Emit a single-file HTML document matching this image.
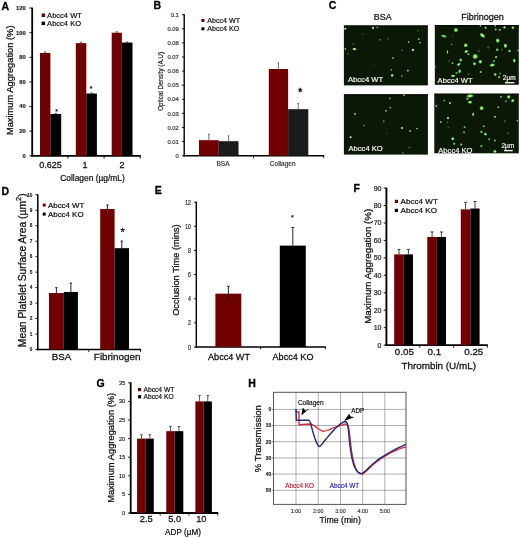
<!DOCTYPE html>
<html><head><meta charset="utf-8"><title>Figure</title>
<style>
html,body{margin:0;padding:0;background:#fff;}
svg{display:block;}
text{font-family:"Liberation Sans",sans-serif;}
</style></head><body>
<svg width="520" height="538" viewBox="0 0 520 538">
<rect x="0" y="0" width="520" height="538" fill="#fff"/>
<text x="1.6" y="9.8" font-size="10.5" text-anchor="start" font-weight="bold" fill="#000" stroke="#000" stroke-width="0.294">A</text>
<line x1="32.20" y1="7.58" x2="32.20" y2="156.70" stroke="#000" stroke-width="1.8"/>
<line x1="31.30" y1="155.80" x2="140.70" y2="155.80" stroke="#000" stroke-width="1.8"/>
<line x1="29.40" y1="155.80" x2="32.20" y2="155.80" stroke="#000" stroke-width="0.9"/>
<line x1="29.40" y1="131.18" x2="32.20" y2="131.18" stroke="#000" stroke-width="0.9"/>
<line x1="29.40" y1="106.56" x2="32.20" y2="106.56" stroke="#000" stroke-width="0.9"/>
<line x1="29.40" y1="81.94" x2="32.20" y2="81.94" stroke="#000" stroke-width="0.9"/>
<line x1="29.40" y1="57.32" x2="32.20" y2="57.32" stroke="#000" stroke-width="0.9"/>
<line x1="29.40" y1="32.70" x2="32.20" y2="32.70" stroke="#000" stroke-width="0.9"/>
<line x1="29.40" y1="8.08" x2="32.20" y2="8.08" stroke="#000" stroke-width="0.9"/>
<line x1="67.90" y1="155.80" x2="67.90" y2="158.60" stroke="#000" stroke-width="0.9"/>
<line x1="104.10" y1="155.80" x2="104.10" y2="158.60" stroke="#000" stroke-width="0.9"/>
<line x1="140.20" y1="155.80" x2="140.20" y2="158.60" stroke="#000" stroke-width="0.9"/>
<text x="25.7" y="157.70000000000002" font-size="5.8" text-anchor="end" font-weight="bold" fill="#222" stroke="#222" stroke-width="0.162">0</text>
<text x="25.7" y="133.08" font-size="5.8" text-anchor="end" font-weight="bold" fill="#222" stroke="#222" stroke-width="0.162">20</text>
<text x="25.7" y="108.46000000000001" font-size="5.8" text-anchor="end" font-weight="bold" fill="#222" stroke="#222" stroke-width="0.162">40</text>
<text x="25.7" y="83.84000000000002" font-size="5.8" text-anchor="end" font-weight="bold" fill="#222" stroke="#222" stroke-width="0.162">60</text>
<text x="25.7" y="59.220000000000006" font-size="5.8" text-anchor="end" font-weight="bold" fill="#222" stroke="#222" stroke-width="0.162">80</text>
<text x="25.7" y="34.6" font-size="5.8" text-anchor="end" font-weight="bold" fill="#222" stroke="#222" stroke-width="0.162">100</text>
<text x="25.7" y="9.980000000000013" font-size="5.8" text-anchor="end" font-weight="bold" fill="#222" stroke="#222" stroke-width="0.162">120</text>
<rect x="40.00" y="53.01" width="10.40" height="102.79" fill="#700101"/>
<rect x="50.40" y="113.95" width="10.80" height="41.85" fill="#000"/>
<line x1="45.20" y1="52.11" x2="45.20" y2="53.01" stroke="#111" stroke-width="0.6"/>
<line x1="44.00" y1="52.11" x2="46.40" y2="52.11" stroke="#111" stroke-width="0.6"/>
<line x1="55.80" y1="113.35" x2="55.80" y2="113.95" stroke="#111" stroke-width="0.6"/>
<line x1="54.60" y1="113.35" x2="57.00" y2="113.35" stroke="#111" stroke-width="0.6"/>
<rect x="75.80" y="43.16" width="10.50" height="112.64" fill="#700101"/>
<rect x="86.30" y="93.51" width="10.60" height="62.29" fill="#000"/>
<line x1="81.05" y1="42.26" x2="81.05" y2="43.16" stroke="#111" stroke-width="0.6"/>
<line x1="79.85" y1="42.26" x2="82.25" y2="42.26" stroke="#111" stroke-width="0.6"/>
<line x1="91.60" y1="92.91" x2="91.60" y2="93.51" stroke="#111" stroke-width="0.6"/>
<line x1="90.40" y1="92.91" x2="92.80" y2="92.91" stroke="#111" stroke-width="0.6"/>
<rect x="111.70" y="32.70" width="10.20" height="123.10" fill="#700101"/>
<rect x="121.90" y="42.55" width="10.60" height="113.25" fill="#000"/>
<line x1="116.80" y1="31.80" x2="116.80" y2="32.70" stroke="#111" stroke-width="0.6"/>
<line x1="115.60" y1="31.80" x2="118.00" y2="31.80" stroke="#111" stroke-width="0.6"/>
<line x1="127.20" y1="41.95" x2="127.20" y2="42.55" stroke="#111" stroke-width="0.6"/>
<line x1="126.00" y1="41.95" x2="128.40" y2="41.95" stroke="#111" stroke-width="0.6"/>
<text x="56.5" y="113.5" font-size="7" text-anchor="middle" font-weight="normal" fill="#111" stroke="#111" stroke-width="0.196">*</text>
<text x="91" y="90.5" font-size="7" text-anchor="middle" font-weight="normal" fill="#111" stroke="#111" stroke-width="0.196">*</text>
<rect x="41.60" y="13.50" width="3.50" height="3.50" fill="#700101"/>
<rect x="41.60" y="21.60" width="3.50" height="3.50" fill="#000"/>
<text x="47.1" y="17.968" font-size="7.55" text-anchor="start" font-weight="normal" fill="#111" stroke="#111" stroke-width="0.211">Abcc4 WT</text>
<text x="47.1" y="26.068" font-size="7.55" text-anchor="start" font-weight="normal" fill="#111" stroke="#111" stroke-width="0.211">Abcc4 KO</text>
<text x="50.6" y="168.4" font-size="9" text-anchor="middle" font-weight="normal" fill="#111" stroke="#111" stroke-width="0.252">0.625</text>
<text x="85.0" y="168.4" font-size="9" text-anchor="middle" font-weight="normal" fill="#111" stroke="#111" stroke-width="0.252">1</text>
<text x="121.9" y="168.4" font-size="9" text-anchor="middle" font-weight="normal" fill="#111" stroke="#111" stroke-width="0.252">2</text>
<text x="92.5" y="181.3" font-size="8.4" text-anchor="middle" font-weight="normal" fill="#111" stroke="#111" stroke-width="0.235">Collagen (µg/mL)</text>
<text x="13.2" y="80.3" font-size="9.3" text-anchor="middle" font-weight="normal" fill="#111" stroke="#111" stroke-width="0.26" transform="rotate(-90 13.2 80.3)">Maximum Aggregation (%)</text>
<text x="153.6" y="8.9" font-size="10.5" text-anchor="start" font-weight="bold" fill="#000" stroke="#000" stroke-width="0.294">B</text>
<line x1="184.20" y1="14.20" x2="184.20" y2="156.40" stroke="#000" stroke-width="1.4"/>
<line x1="183.50" y1="155.70" x2="324.20" y2="155.70" stroke="#000" stroke-width="1.4"/>
<line x1="182.00" y1="155.70" x2="184.20" y2="155.70" stroke="#000" stroke-width="0.9"/>
<line x1="182.00" y1="141.60" x2="184.20" y2="141.60" stroke="#000" stroke-width="0.9"/>
<line x1="182.00" y1="127.50" x2="184.20" y2="127.50" stroke="#000" stroke-width="0.9"/>
<line x1="182.00" y1="113.40" x2="184.20" y2="113.40" stroke="#000" stroke-width="0.9"/>
<line x1="182.00" y1="99.30" x2="184.20" y2="99.30" stroke="#000" stroke-width="0.9"/>
<line x1="182.00" y1="85.20" x2="184.20" y2="85.20" stroke="#000" stroke-width="0.9"/>
<line x1="182.00" y1="71.10" x2="184.20" y2="71.10" stroke="#000" stroke-width="0.9"/>
<line x1="182.00" y1="57.00" x2="184.20" y2="57.00" stroke="#000" stroke-width="0.9"/>
<line x1="182.00" y1="42.90" x2="184.20" y2="42.90" stroke="#000" stroke-width="0.9"/>
<line x1="182.00" y1="28.80" x2="184.20" y2="28.80" stroke="#000" stroke-width="0.9"/>
<line x1="182.00" y1="14.70" x2="184.20" y2="14.70" stroke="#000" stroke-width="0.9"/>
<line x1="253.50" y1="155.70" x2="253.50" y2="157.90" stroke="#000" stroke-width="0.9"/>
<line x1="323.70" y1="155.70" x2="323.70" y2="157.90" stroke="#000" stroke-width="0.9"/>
<text x="178.9" y="157.79999999999998" font-size="5.9" text-anchor="end" font-weight="normal" fill="#333" stroke="#333" stroke-width="0.165">0</text>
<text x="178.9" y="143.7" font-size="5.9" text-anchor="end" font-weight="normal" fill="#333" stroke="#333" stroke-width="0.165">0.01</text>
<text x="178.9" y="129.6" font-size="5.9" text-anchor="end" font-weight="normal" fill="#333" stroke="#333" stroke-width="0.165">0.02</text>
<text x="178.9" y="115.49999999999999" font-size="5.9" text-anchor="end" font-weight="normal" fill="#333" stroke="#333" stroke-width="0.165">0.03</text>
<text x="178.9" y="101.39999999999998" font-size="5.9" text-anchor="end" font-weight="normal" fill="#333" stroke="#333" stroke-width="0.165">0.04</text>
<text x="178.9" y="87.29999999999998" font-size="5.9" text-anchor="end" font-weight="normal" fill="#333" stroke="#333" stroke-width="0.165">0.05</text>
<text x="178.9" y="73.19999999999999" font-size="5.9" text-anchor="end" font-weight="normal" fill="#333" stroke="#333" stroke-width="0.165">0.06</text>
<text x="178.9" y="59.09999999999999" font-size="5.9" text-anchor="end" font-weight="normal" fill="#333" stroke="#333" stroke-width="0.165">0.07</text>
<text x="178.9" y="44.99999999999999" font-size="5.9" text-anchor="end" font-weight="normal" fill="#333" stroke="#333" stroke-width="0.165">0.08</text>
<text x="178.9" y="30.9" font-size="5.9" text-anchor="end" font-weight="normal" fill="#333" stroke="#333" stroke-width="0.165">0.09</text>
<text x="178.9" y="16.79999999999999" font-size="5.9" text-anchor="end" font-weight="normal" fill="#333" stroke="#333" stroke-width="0.165">0.1</text>
<rect x="199.00" y="140.19" width="19.80" height="15.51" fill="#700101"/>
<rect x="218.80" y="141.18" width="19.70" height="14.52" fill="#1b1b1d"/>
<rect x="268.80" y="68.98" width="19.30" height="86.72" fill="#700101"/>
<rect x="288.10" y="109.17" width="20.20" height="46.53" fill="#1b1b1d"/>
<line x1="208.90" y1="134.20" x2="208.90" y2="140.19" stroke="#333" stroke-width="0.7"/>
<line x1="208.10" y1="134.20" x2="209.70" y2="134.20" stroke="#333" stroke-width="0.7"/>
<line x1="228.60" y1="135.80" x2="228.60" y2="141.18" stroke="#333" stroke-width="0.7"/>
<line x1="227.80" y1="135.80" x2="229.40" y2="135.80" stroke="#333" stroke-width="0.7"/>
<line x1="278.40" y1="62.80" x2="278.40" y2="68.98" stroke="#333" stroke-width="0.7"/>
<line x1="277.60" y1="62.80" x2="279.20" y2="62.80" stroke="#333" stroke-width="0.7"/>
<line x1="298.20" y1="103.50" x2="298.20" y2="109.17" stroke="#333" stroke-width="0.7"/>
<line x1="297.40" y1="103.50" x2="299.00" y2="103.50" stroke="#333" stroke-width="0.7"/>
<text x="300.2" y="96.3" font-size="10" text-anchor="middle" font-weight="bold" fill="#111" stroke="#111" stroke-width="0.28">*</text>
<rect x="201.40" y="19.00" width="3.00" height="3.00" fill="#700101"/>
<rect x="201.40" y="27.30" width="3.00" height="3.00" fill="#000"/>
<text x="207.3" y="23.056" font-size="7.1" text-anchor="start" font-weight="normal" fill="#111" stroke="#111" stroke-width="0.199">Abcc4 WT</text>
<text x="207.3" y="31.356" font-size="7.1" text-anchor="start" font-weight="normal" fill="#111" stroke="#111" stroke-width="0.199">Abcc4 KO</text>
<text x="223" y="166.3" font-size="6.5" text-anchor="middle" font-weight="normal" fill="#333" stroke="#333" stroke-width="0.182">BSA</text>
<text x="282.7" y="166.3" font-size="6.5" text-anchor="middle" font-weight="normal" fill="#333" stroke="#333" stroke-width="0.182">Collagen</text>
<text x="163.3" y="81.4" font-size="6.3" text-anchor="middle" font-weight="normal" fill="#222" stroke="#222" stroke-width="0.176" transform="rotate(-90 163.3 81.4)">Optical Density (A.U)</text>
<text x="328.8" y="9.4" font-size="10.5" text-anchor="start" font-weight="bold" fill="#000" stroke="#000" stroke-width="0.294">C</text>
<text x="382.7" y="19.9" font-size="8.9" text-anchor="middle" font-weight="normal" fill="#111" stroke="#111" stroke-width="0.249">BSA</text>
<text x="482.5" y="19.9" font-size="9" text-anchor="middle" font-weight="normal" fill="#111" stroke="#111" stroke-width="0.252">Fibrinogen</text>
<defs><filter id="bl" x="-50%" y="-50%" width="200%" height="200%"><feGaussianBlur stdDeviation="0.35"/></filter>
<radialGradient id="gg"><stop offset="0" stop-color="#d6fcc6"/><stop offset="0.45" stop-color="#80dc5a"/><stop offset="0.8" stop-color="#3c9624" stop-opacity="0.8"/><stop offset="1" stop-color="#2a7a14" stop-opacity="0"/></radialGradient>
<radialGradient id="gm"><stop offset="0" stop-color="#e2f8d2"/><stop offset="0.5" stop-color="#9cd87c"/><stop offset="1" stop-color="#4a8a30" stop-opacity="0"/></radialGradient>
<radialGradient id="gp"><stop offset="0" stop-color="#e4f6c4"/><stop offset="0.5" stop-color="#a8cf78"/><stop offset="1" stop-color="#5a7a3a" stop-opacity="0"/></radialGradient>
<clipPath id="cp1"><rect x="343.9" y="25.5" width="84.00" height="59.90"/></clipPath>
<clipPath id="cp2"><rect x="434.8" y="25.1" width="84.00" height="59.70"/></clipPath>
<clipPath id="cp3"><rect x="343.9" y="94.3" width="84.00" height="60.30"/></clipPath>
<clipPath id="cp4"><rect x="434.3" y="93.7" width="84.50" height="59.60"/></clipPath>
</defs>
<rect x="343.90" y="25.50" width="84.00" height="59.90" fill="#0b1806"/>
<rect x="343.90" y="25.50" width="84.00" height="1.00" fill="#030603"/>
<g clip-path="url(#cp1)"><g filter="url(#bl)">
<ellipse cx="345.3" cy="28.7" rx="1.54" ry="1.54" fill="url(#gm)" opacity="1" transform="rotate(0 345.3 28.7)"/>
<ellipse cx="373.1" cy="27.8" rx="1.54" ry="1.54" fill="url(#gm)" opacity="1" transform="rotate(0 373.1 27.8)"/>
<ellipse cx="377.2" cy="27.3" rx="1.15" ry="1.15" fill="url(#gm)" opacity="0.8" transform="rotate(0 377.2 27.3)"/>
<ellipse cx="380.3" cy="39.7" rx="1.41" ry="1.41" fill="url(#gm)" opacity="0.45" transform="rotate(0 380.3 39.7)"/>
<ellipse cx="388.1" cy="38.8" rx="1.28" ry="1.28" fill="url(#gm)" opacity="0.3" transform="rotate(0 388.1 38.8)"/>
<ellipse cx="408.6" cy="42" rx="1.41" ry="1.41" fill="url(#gm)" opacity="0.7" transform="rotate(0 408.6 42)"/>
<ellipse cx="418.7" cy="39.2" rx="1.41" ry="1.41" fill="url(#gm)" opacity="0.7" transform="rotate(0 418.7 39.2)"/>
<ellipse cx="420" cy="42.7" rx="1.28" ry="1.28" fill="url(#gm)" opacity="0.7" transform="rotate(0 420 42.7)"/>
<ellipse cx="353.3" cy="44.1" rx="1.28" ry="1.28" fill="url(#gm)" opacity="0.3" transform="rotate(0 353.3 44.1)"/>
<ellipse cx="345.3" cy="48.9" rx="1.28" ry="1.28" fill="url(#gm)" opacity="0.7" transform="rotate(0 345.3 48.9)"/>
<ellipse cx="354.5" cy="49.1" rx="2.43" ry="1.66" fill="url(#gm)" opacity="1" transform="rotate(10 354.5 49.1)"/>
<ellipse cx="348" cy="53.8" rx="1.15" ry="1.15" fill="url(#gm)" opacity="0.35" transform="rotate(0 348 53.8)"/>
<ellipse cx="402.3" cy="50.3" rx="1.28" ry="1.28" fill="url(#gm)" opacity="0.4" transform="rotate(0 402.3 50.3)"/>
<ellipse cx="412.9" cy="50" rx="1.66" ry="1.66" fill="url(#gm)" opacity="1" transform="rotate(0 412.9 50)"/>
<ellipse cx="393.1" cy="57.9" rx="1.41" ry="1.41" fill="url(#gm)" opacity="0.6" transform="rotate(0 393.1 57.9)"/>
<ellipse cx="391.3" cy="69.8" rx="1.28" ry="1.28" fill="url(#gm)" opacity="0.6" transform="rotate(0 391.3 69.8)"/>
<ellipse cx="407.8" cy="70.7" rx="1.41" ry="1.41" fill="url(#gm)" opacity="0.8" transform="rotate(0 407.8 70.7)"/>
<ellipse cx="392.2" cy="75.4" rx="1.79" ry="1.79" fill="url(#gm)" opacity="1" transform="rotate(0 392.2 75.4)"/>
<ellipse cx="401.9" cy="76" rx="1.28" ry="1.28" fill="url(#gm)" opacity="0.5" transform="rotate(0 401.9 76)"/>
<ellipse cx="368.3" cy="81.3" rx="1.15" ry="1.15" fill="url(#gm)" opacity="0.7" transform="rotate(0 368.3 81.3)"/>
<ellipse cx="417.8" cy="30.8" rx="1.15" ry="1.15" fill="url(#gm)" opacity="0.35" transform="rotate(0 417.8 30.8)"/>
<ellipse cx="363" cy="34.4" rx="1.28" ry="1.28" fill="url(#gm)" opacity="0.2" transform="rotate(0 363 34.4)"/>
<ellipse cx="373.6" cy="65.3" rx="1.28" ry="1.28" fill="url(#gm)" opacity="0.15" transform="rotate(0 373.6 65.3)"/>
</g></g>
<rect x="434.80" y="25.10" width="84.00" height="59.70" fill="#0b1806"/>
<rect x="434.80" y="25.10" width="84.00" height="1.00" fill="#030603"/>
<g clip-path="url(#cp2)"><g filter="url(#bl)">
<ellipse cx="455.9" cy="30" rx="2.43" ry="2.43" fill="url(#gg)" opacity="1" transform="rotate(0 455.9 30)"/>
<ellipse cx="443.8" cy="36.1" rx="3.33" ry="1.66" fill="url(#gg)" opacity="0.85" transform="rotate(15 443.8 36.1)"/>
<ellipse cx="482.4" cy="35.4" rx="3.58" ry="2.05" fill="url(#gg)" opacity="1" transform="rotate(40 482.4 35.4)"/>
<ellipse cx="485.6" cy="27.7" rx="1.54" ry="1.54" fill="url(#gg)" opacity="0.8" transform="rotate(0 485.6 27.7)"/>
<ellipse cx="495.7" cy="29.5" rx="1.41" ry="1.41" fill="url(#gg)" opacity="0.8" transform="rotate(0 495.7 29.5)"/>
<ellipse cx="499.7" cy="30" rx="1.41" ry="1.41" fill="url(#gg)" opacity="0.8" transform="rotate(0 499.7 30)"/>
<ellipse cx="504.5" cy="27.4" rx="1.66" ry="1.66" fill="url(#gg)" opacity="0.9" transform="rotate(0 504.5 27.4)"/>
<ellipse cx="512.9" cy="27.7" rx="1.79" ry="1.79" fill="url(#gg)" opacity="0.9" transform="rotate(0 512.9 27.7)"/>
<ellipse cx="480.4" cy="25.8" rx="1.28" ry="1.28" fill="url(#gg)" opacity="0.7" transform="rotate(0 480.4 25.8)"/>
<ellipse cx="495.2" cy="25.8" rx="1.28" ry="1.28" fill="url(#gg)" opacity="0.6" transform="rotate(0 495.2 25.8)"/>
<ellipse cx="497.7" cy="40.6" rx="2.30" ry="2.56" fill="url(#gg)" opacity="1" transform="rotate(0 497.7 40.6)"/>
<ellipse cx="465.7" cy="45.3" rx="2.30" ry="2.30" fill="url(#gg)" opacity="1" transform="rotate(0 465.7 45.3)"/>
<ellipse cx="505.4" cy="45.7" rx="2.05" ry="2.56" fill="url(#gg)" opacity="1" transform="rotate(0 505.4 45.7)"/>
<ellipse cx="488.2" cy="47.5" rx="1.66" ry="1.66" fill="url(#gg)" opacity="0.35" transform="rotate(0 488.2 47.5)"/>
<ellipse cx="497.2" cy="49.8" rx="1.79" ry="1.79" fill="url(#gg)" opacity="0.8" transform="rotate(0 497.2 49.8)"/>
<ellipse cx="509.4" cy="51" rx="1.79" ry="1.79" fill="url(#gg)" opacity="0.8" transform="rotate(0 509.4 51)"/>
<ellipse cx="518.3" cy="50.5" rx="1.41" ry="1.41" fill="url(#gg)" opacity="0.8" transform="rotate(0 518.3 50.5)"/>
<ellipse cx="466.3" cy="51.5" rx="2.43" ry="1.66" fill="url(#gg)" opacity="1" transform="rotate(-30 466.3 51.5)"/>
<ellipse cx="447.5" cy="52" rx="1.15" ry="2.43" fill="url(#gg)" opacity="0.85" transform="rotate(0 447.5 52)"/>
<ellipse cx="468.4" cy="54.2" rx="1.41" ry="1.41" fill="url(#gg)" opacity="0.8" transform="rotate(0 468.4 54.2)"/>
<ellipse cx="475.2" cy="56.5" rx="3.07" ry="3.07" fill="url(#gg)" opacity="1" transform="rotate(0 475.2 56.5)"/>
<ellipse cx="496.1" cy="57.1" rx="1.66" ry="1.66" fill="url(#gg)" opacity="0.85" transform="rotate(0 496.1 57.1)"/>
<ellipse cx="460.8" cy="60" rx="1.92" ry="1.92" fill="url(#gg)" opacity="0.85" transform="rotate(0 460.8 60)"/>
<ellipse cx="480.3" cy="61.7" rx="2.18" ry="2.18" fill="url(#gg)" opacity="1" transform="rotate(0 480.3 61.7)"/>
<ellipse cx="474.5" cy="63.8" rx="1.92" ry="1.92" fill="url(#gg)" opacity="0.95" transform="rotate(0 474.5 63.8)"/>
<ellipse cx="492.2" cy="65.1" rx="3.07" ry="1.92" fill="url(#gg)" opacity="1" transform="rotate(-10 492.2 65.1)"/>
<ellipse cx="452.5" cy="63.2" rx="1.41" ry="1.41" fill="url(#gg)" opacity="0.7" transform="rotate(0 452.5 63.2)"/>
<ellipse cx="514.3" cy="60.6" rx="1.54" ry="2.43" fill="url(#gg)" opacity="1" transform="rotate(0 514.3 60.6)"/>
<ellipse cx="458.8" cy="64.4" rx="2.43" ry="1.54" fill="url(#gg)" opacity="1" transform="rotate(-40 458.8 64.4)"/>
<ellipse cx="459.6" cy="71.3" rx="1.54" ry="2.43" fill="url(#gg)" opacity="1" transform="rotate(10 459.6 71.3)"/>
<ellipse cx="456.5" cy="73" rx="1.41" ry="1.41" fill="url(#gg)" opacity="0.7" transform="rotate(0 456.5 73)"/>
<ellipse cx="453" cy="75.9" rx="2.56" ry="1.54" fill="url(#gg)" opacity="1" transform="rotate(0 453 75.9)"/>
<ellipse cx="480.7" cy="72" rx="1.54" ry="1.54" fill="url(#gg)" opacity="0.8" transform="rotate(0 480.7 72)"/>
<ellipse cx="495.2" cy="74.5" rx="1.79" ry="1.79" fill="url(#gg)" opacity="0.9" transform="rotate(0 495.2 74.5)"/>
<ellipse cx="500.1" cy="73.6" rx="1.41" ry="1.41" fill="url(#gg)" opacity="0.5" transform="rotate(0 500.1 73.6)"/>
<ellipse cx="451.6" cy="44.5" rx="1.15" ry="1.15" fill="url(#gg)" opacity="0.6" transform="rotate(0 451.6 44.5)"/>
<ellipse cx="499.2" cy="77.2" rx="1.54" ry="1.54" fill="url(#gg)" opacity="0.8" transform="rotate(0 499.2 77.2)"/>
<ellipse cx="435.4" cy="66.8" rx="1.15" ry="1.15" fill="url(#gg)" opacity="0.5" transform="rotate(0 435.4 66.8)"/>
<ellipse cx="493.9" cy="61.1" rx="1.41" ry="1.41" fill="url(#gg)" opacity="0.7" transform="rotate(0 493.9 61.1)"/>
<ellipse cx="478.8" cy="51.1" rx="1.28" ry="1.28" fill="url(#gg)" opacity="0.4" transform="rotate(0 478.8 51.1)"/>
<ellipse cx="501.8" cy="49.7" rx="1.28" ry="1.28" fill="url(#gg)" opacity="0.35" transform="rotate(0 501.8 49.7)"/>
<ellipse cx="468.6" cy="74.2" rx="1.28" ry="1.28" fill="url(#gg)" opacity="0.4" transform="rotate(0 468.6 74.2)"/>
<ellipse cx="449" cy="60.9" rx="1.15" ry="1.15" fill="url(#gg)" opacity="0.3" transform="rotate(0 449 60.9)"/>
<ellipse cx="453" cy="35.5" rx="1.28" ry="1.28" fill="url(#gg)" opacity="0.2" transform="rotate(0 453 35.5)"/>
</g></g>
<rect x="343.90" y="94.30" width="84.00" height="60.30" fill="#0b1806"/>
<rect x="343.90" y="94.30" width="84.00" height="1.00" fill="#030603"/>
<g clip-path="url(#cp3)"><g filter="url(#bl)">
<ellipse cx="404" cy="95" rx="1.45" ry="1.45" fill="url(#gp)" opacity="0.7" transform="rotate(0 404 95)"/>
<ellipse cx="389.9" cy="98.5" rx="1.45" ry="1.45" fill="url(#gp)" opacity="0.6" transform="rotate(0 389.9 98.5)"/>
<ellipse cx="390.4" cy="107.7" rx="1.45" ry="1.45" fill="url(#gp)" opacity="0.6" transform="rotate(0 390.4 107.7)"/>
<ellipse cx="386" cy="110.7" rx="1.45" ry="1.45" fill="url(#gp)" opacity="0.7" transform="rotate(0 386 110.7)"/>
<ellipse cx="355" cy="113.9" rx="1.45" ry="1.45" fill="url(#gp)" opacity="0.7" transform="rotate(0 355 113.9)"/>
<ellipse cx="383.7" cy="121.3" rx="1.59" ry="1.59" fill="url(#gp)" opacity="0.4" transform="rotate(0 383.7 121.3)"/>
<ellipse cx="363.9" cy="125.4" rx="1.30" ry="1.30" fill="url(#gp)" opacity="0.5" transform="rotate(0 363.9 125.4)"/>
<ellipse cx="401.9" cy="128" rx="1.59" ry="1.59" fill="url(#gp)" opacity="0.9" transform="rotate(0 401.9 128)"/>
<ellipse cx="410.2" cy="131" rx="1.45" ry="1.45" fill="url(#gp)" opacity="0.7" transform="rotate(0 410.2 131)"/>
<ellipse cx="417" cy="128.6" rx="1.30" ry="1.30" fill="url(#gp)" opacity="0.7" transform="rotate(0 417 128.6)"/>
<ellipse cx="350.6" cy="137.2" rx="1.59" ry="1.59" fill="url(#gp)" opacity="0.9" transform="rotate(0 350.6 137.2)"/>
<ellipse cx="409.4" cy="147.5" rx="1.45" ry="1.45" fill="url(#gp)" opacity="0.35" transform="rotate(0 409.4 147.5)"/>
<ellipse cx="402.8" cy="152.8" rx="1.30" ry="1.30" fill="url(#gp)" opacity="0.4" transform="rotate(0 402.8 152.8)"/>
<ellipse cx="386.9" cy="133.3" rx="1.45" ry="1.45" fill="url(#gp)" opacity="0.15" transform="rotate(0 386.9 133.3)"/>
</g></g>
<rect x="434.30" y="93.70" width="84.50" height="59.60" fill="#0b1806"/>
<rect x="434.30" y="93.70" width="84.50" height="1.00" fill="#030603"/>
<g clip-path="url(#cp4)"><g filter="url(#bl)">
<ellipse cx="470" cy="96" rx="4.10" ry="1.92" fill="url(#gg)" opacity="1" transform="rotate(-5 470 96)"/>
<ellipse cx="467.4" cy="98.8" rx="1.54" ry="1.54" fill="url(#gg)" opacity="0.8" transform="rotate(0 467.4 98.8)"/>
<ellipse cx="470" cy="102.2" rx="2.56" ry="1.79" fill="url(#gg)" opacity="1" transform="rotate(0 470 102.2)"/>
<ellipse cx="444.4" cy="100.4" rx="1.28" ry="1.28" fill="url(#gp)" opacity="0.7" transform="rotate(0 444.4 100.4)"/>
<ellipse cx="450" cy="103.1" rx="1.54" ry="1.54" fill="url(#gp)" opacity="0.8" transform="rotate(0 450 103.1)"/>
<ellipse cx="436.4" cy="106.1" rx="1.41" ry="1.41" fill="url(#gp)" opacity="0.8" transform="rotate(0 436.4 106.1)"/>
<ellipse cx="501" cy="96.9" rx="1.41" ry="1.41" fill="url(#gg)" opacity="0.7" transform="rotate(0 501 96.9)"/>
<ellipse cx="508.7" cy="96.9" rx="2.05" ry="2.05" fill="url(#gg)" opacity="1" transform="rotate(0 508.7 96.9)"/>
<ellipse cx="512.7" cy="100.7" rx="1.92" ry="1.92" fill="url(#gg)" opacity="1" transform="rotate(0 512.7 100.7)"/>
<ellipse cx="506.2" cy="101.2" rx="1.28" ry="1.28" fill="url(#gg)" opacity="0.7" transform="rotate(0 506.2 101.2)"/>
<ellipse cx="481.6" cy="108.2" rx="2.43" ry="2.43" fill="url(#gg)" opacity="1" transform="rotate(0 481.6 108.2)"/>
<ellipse cx="498.4" cy="107.3" rx="1.41" ry="1.41" fill="url(#gg)" opacity="0.7" transform="rotate(0 498.4 107.3)"/>
<ellipse cx="473.2" cy="114.3" rx="1.41" ry="2.18" fill="url(#gg)" opacity="0.9" transform="rotate(0 473.2 114.3)"/>
<ellipse cx="447.9" cy="118.1" rx="1.66" ry="1.66" fill="url(#gp)" opacity="0.9" transform="rotate(0 447.9 118.1)"/>
<ellipse cx="494.9" cy="116.8" rx="1.54" ry="1.54" fill="url(#gg)" opacity="0.8" transform="rotate(0 494.9 116.8)"/>
<ellipse cx="440.8" cy="122" rx="1.41" ry="1.41" fill="url(#gp)" opacity="0.7" transform="rotate(0 440.8 122)"/>
<ellipse cx="447.5" cy="122.3" rx="1.15" ry="1.15" fill="url(#gp)" opacity="0.4" transform="rotate(0 447.5 122.3)"/>
<ellipse cx="504.8" cy="121.2" rx="1.28" ry="1.28" fill="url(#gg)" opacity="0.4" transform="rotate(0 504.8 121.2)"/>
<ellipse cx="517.4" cy="120.8" rx="1.28" ry="1.28" fill="url(#gg)" opacity="0.7" transform="rotate(0 517.4 120.8)"/>
<ellipse cx="464.6" cy="127.2" rx="1.41" ry="1.41" fill="url(#gg)" opacity="0.7" transform="rotate(0 464.6 127.2)"/>
<ellipse cx="483.7" cy="126.3" rx="1.41" ry="1.41" fill="url(#gg)" opacity="0.7" transform="rotate(0 483.7 126.3)"/>
<ellipse cx="464.1" cy="132.4" rx="1.41" ry="1.41" fill="url(#gg)" opacity="0.7" transform="rotate(0 464.1 132.4)"/>
<ellipse cx="481.4" cy="131.9" rx="1.54" ry="1.54" fill="url(#gg)" opacity="0.8" transform="rotate(0 481.4 131.9)"/>
<ellipse cx="485.4" cy="134.1" rx="1.79" ry="1.79" fill="url(#gg)" opacity="1" transform="rotate(0 485.4 134.1)"/>
<ellipse cx="507.9" cy="133.3" rx="1.28" ry="1.28" fill="url(#gg)" opacity="0.4" transform="rotate(0 507.9 133.3)"/>
<ellipse cx="452.8" cy="138.8" rx="1.92" ry="1.92" fill="url(#gg)" opacity="1" transform="rotate(0 452.8 138.8)"/>
<ellipse cx="489.2" cy="139.3" rx="1.41" ry="1.41" fill="url(#gg)" opacity="0.7" transform="rotate(0 489.2 139.3)"/>
<ellipse cx="494.9" cy="140.5" rx="1.41" ry="1.41" fill="url(#gg)" opacity="0.7" transform="rotate(0 494.9 140.5)"/>
<ellipse cx="454.2" cy="143.7" rx="1.54" ry="1.54" fill="url(#gg)" opacity="0.8" transform="rotate(0 454.2 143.7)"/>
<ellipse cx="461.2" cy="144.5" rx="1.54" ry="1.54" fill="url(#gg)" opacity="0.8" transform="rotate(0 461.2 144.5)"/>
<ellipse cx="481.4" cy="146.2" rx="1.41" ry="1.41" fill="url(#gg)" opacity="0.8" transform="rotate(0 481.4 146.2)"/>
<ellipse cx="494.9" cy="151.4" rx="1.92" ry="1.92" fill="url(#gg)" opacity="1" transform="rotate(0 494.9 151.4)"/>
<ellipse cx="448.2" cy="127.2" rx="1.15" ry="1.15" fill="url(#gp)" opacity="0.35" transform="rotate(0 448.2 127.2)"/>
<ellipse cx="443.8" cy="100.4" rx="1.15" ry="1.15" fill="url(#gp)" opacity="0.35" transform="rotate(0 443.8 100.4)"/>
</g></g>
<text x="348" y="81.7" font-size="7.6" text-anchor="start" font-weight="normal" fill="#f2f2f2" stroke="#f2f2f2" stroke-width="0.213">Abcc4 WT</text>
<text x="437.6" y="82.9" font-size="7.6" text-anchor="start" font-weight="normal" fill="#f2f2f2" stroke="#f2f2f2" stroke-width="0.213">Abcc4 WT</text>
<text x="348.5" y="151.1" font-size="7.6" text-anchor="start" font-weight="normal" fill="#f2f2f2" stroke="#f2f2f2" stroke-width="0.213">Abcc4 KO</text>
<text x="438.3" y="153.0" font-size="7.6" text-anchor="start" font-weight="normal" fill="#f2f2f2" stroke="#f2f2f2" stroke-width="0.213">Abcc4 KO</text>
<text x="509.2" y="80.4" font-size="6.5" text-anchor="middle" font-weight="normal" fill="#f2f2f2" stroke="#f2f2f2" stroke-width="0.182">2µm</text>
<rect x="505.00" y="82.00" width="9.30" height="1.40" fill="#f2f2f2"/>
<text x="507.8" y="148.4" font-size="6.5" text-anchor="middle" font-weight="normal" fill="#f2f2f2" stroke="#f2f2f2" stroke-width="0.182">2µm</text>
<rect x="504.00" y="149.90" width="8.70" height="1.40" fill="#f2f2f2"/>
<text x="1.6" y="194.7" font-size="10.5" text-anchor="start" font-weight="bold" fill="#000" stroke="#000" stroke-width="0.294">D</text>
<line x1="37.80" y1="194.30" x2="37.80" y2="350.25" stroke="#000" stroke-width="1.5"/>
<line x1="37.05" y1="349.50" x2="141.10" y2="349.50" stroke="#000" stroke-width="1.5"/>
<line x1="35.40" y1="349.50" x2="37.80" y2="349.50" stroke="#000" stroke-width="0.9"/>
<line x1="35.40" y1="334.03" x2="37.80" y2="334.03" stroke="#000" stroke-width="0.9"/>
<line x1="35.40" y1="318.56" x2="37.80" y2="318.56" stroke="#000" stroke-width="0.9"/>
<line x1="35.40" y1="303.09" x2="37.80" y2="303.09" stroke="#000" stroke-width="0.9"/>
<line x1="35.40" y1="287.62" x2="37.80" y2="287.62" stroke="#000" stroke-width="0.9"/>
<line x1="35.40" y1="272.15" x2="37.80" y2="272.15" stroke="#000" stroke-width="0.9"/>
<line x1="35.40" y1="256.68" x2="37.80" y2="256.68" stroke="#000" stroke-width="0.9"/>
<line x1="35.40" y1="241.21" x2="37.80" y2="241.21" stroke="#000" stroke-width="0.9"/>
<line x1="35.40" y1="225.74" x2="37.80" y2="225.74" stroke="#000" stroke-width="0.9"/>
<line x1="35.40" y1="210.27" x2="37.80" y2="210.27" stroke="#000" stroke-width="0.9"/>
<line x1="35.40" y1="194.80" x2="37.80" y2="194.80" stroke="#000" stroke-width="0.9"/>
<line x1="88.80" y1="349.50" x2="88.80" y2="351.90" stroke="#000" stroke-width="0.9"/>
<line x1="140.60" y1="349.50" x2="140.60" y2="351.90" stroke="#000" stroke-width="0.9"/>
<text x="32.4" y="351.2" font-size="4.7" text-anchor="end" font-weight="bold" fill="#222" stroke="#222" stroke-width="0.132">0</text>
<text x="32.4" y="335.72999999999996" font-size="4.7" text-anchor="end" font-weight="bold" fill="#222" stroke="#222" stroke-width="0.132">1</text>
<text x="32.4" y="320.26" font-size="4.7" text-anchor="end" font-weight="bold" fill="#222" stroke="#222" stroke-width="0.132">2</text>
<text x="32.4" y="304.78999999999996" font-size="4.7" text-anchor="end" font-weight="bold" fill="#222" stroke="#222" stroke-width="0.132">3</text>
<text x="32.4" y="289.32" font-size="4.7" text-anchor="end" font-weight="bold" fill="#222" stroke="#222" stroke-width="0.132">4</text>
<text x="32.4" y="273.84999999999997" font-size="4.7" text-anchor="end" font-weight="bold" fill="#222" stroke="#222" stroke-width="0.132">5</text>
<text x="32.4" y="258.38" font-size="4.7" text-anchor="end" font-weight="bold" fill="#222" stroke="#222" stroke-width="0.132">6</text>
<text x="32.4" y="242.90999999999997" font-size="4.7" text-anchor="end" font-weight="bold" fill="#222" stroke="#222" stroke-width="0.132">7</text>
<text x="32.4" y="227.44" font-size="4.7" text-anchor="end" font-weight="bold" fill="#222" stroke="#222" stroke-width="0.132">8</text>
<text x="32.4" y="211.96999999999997" font-size="4.7" text-anchor="end" font-weight="bold" fill="#222" stroke="#222" stroke-width="0.132">9</text>
<text x="32.4" y="196.49999999999997" font-size="4.7" text-anchor="end" font-weight="bold" fill="#222" stroke="#222" stroke-width="0.132">10</text>
<rect x="49.00" y="293.03" width="14.80" height="56.47" fill="#700101"/>
<rect x="63.80" y="291.95" width="14.10" height="57.55" fill="#000"/>
<rect x="100.20" y="209.03" width="14.40" height="140.47" fill="#700101"/>
<rect x="114.60" y="248.17" width="14.40" height="101.33" fill="#000"/>
<line x1="56.40" y1="287.70" x2="56.40" y2="293.03" stroke="#111" stroke-width="0.9"/>
<line x1="55.20" y1="287.70" x2="57.60" y2="287.70" stroke="#111" stroke-width="0.9"/>
<line x1="70.90" y1="283.10" x2="70.90" y2="291.95" stroke="#111" stroke-width="0.9"/>
<line x1="69.70" y1="283.10" x2="72.10" y2="283.10" stroke="#111" stroke-width="0.9"/>
<line x1="107.40" y1="205.00" x2="107.40" y2="209.03" stroke="#111" stroke-width="0.9"/>
<line x1="106.20" y1="205.00" x2="108.60" y2="205.00" stroke="#111" stroke-width="0.9"/>
<line x1="121.80" y1="241.10" x2="121.80" y2="248.17" stroke="#111" stroke-width="0.9"/>
<line x1="120.60" y1="241.10" x2="123.00" y2="241.10" stroke="#111" stroke-width="0.9"/>
<text x="122.7" y="235.6" font-size="11" text-anchor="middle" font-weight="normal" fill="#111" stroke="#111" stroke-width="0.308">*</text>
<rect x="42.70" y="203.60" width="3.00" height="3.00" fill="#700101"/>
<rect x="42.70" y="212.60" width="3.00" height="3.00" fill="#000"/>
<text x="48.0" y="207.944" font-size="7.9" text-anchor="start" font-weight="normal" fill="#111" stroke="#111" stroke-width="0.221">Abcc4 WT</text>
<text x="48.0" y="216.944" font-size="7.9" text-anchor="start" font-weight="normal" fill="#111" stroke="#111" stroke-width="0.221">Abcc4 KO</text>
<text x="61.5" y="359.6" font-size="9.8" text-anchor="middle" font-weight="normal" fill="#111" stroke="#111" stroke-width="0.274">BSA</text>
<text x="117.2" y="359.6" font-size="9.9" text-anchor="middle" font-weight="normal" fill="#111" stroke="#111" stroke-width="0.277">Fibrinogen</text>
<text x="25.7" y="270.3" font-size="10.3" text-anchor="middle" fill="#111" stroke="#111" stroke-width="0.28" transform="rotate(-90 25.7 270.3)">Mean Platelet Surface Area (µm<tspan font-size="7.5" dy="-4.3">2</tspan><tspan dy="4.3">)</tspan></text>
<text x="154.8" y="194.2" font-size="10.5" text-anchor="start" font-weight="bold" fill="#000" stroke="#000" stroke-width="0.294">E</text>
<line x1="196.30" y1="201.66" x2="196.30" y2="347.70" stroke="#000" stroke-width="1.4"/>
<line x1="195.60" y1="347.00" x2="325.90" y2="347.00" stroke="#000" stroke-width="1.4"/>
<line x1="194.00" y1="347.00" x2="196.30" y2="347.00" stroke="#000" stroke-width="0.9"/>
<line x1="194.00" y1="322.86" x2="196.30" y2="322.86" stroke="#000" stroke-width="0.9"/>
<line x1="194.00" y1="298.72" x2="196.30" y2="298.72" stroke="#000" stroke-width="0.9"/>
<line x1="194.00" y1="274.58" x2="196.30" y2="274.58" stroke="#000" stroke-width="0.9"/>
<line x1="194.00" y1="250.44" x2="196.30" y2="250.44" stroke="#000" stroke-width="0.9"/>
<line x1="194.00" y1="226.30" x2="196.30" y2="226.30" stroke="#000" stroke-width="0.9"/>
<line x1="194.00" y1="202.16" x2="196.30" y2="202.16" stroke="#000" stroke-width="0.9"/>
<line x1="260.60" y1="347.00" x2="260.60" y2="349.30" stroke="#000" stroke-width="0.9"/>
<line x1="325.40" y1="347.00" x2="325.40" y2="349.30" stroke="#000" stroke-width="0.9"/>
<text x="190.9" y="349.5" font-size="7.0" text-anchor="end" font-weight="normal" fill="#222" stroke="#222" stroke-width="0.196" textLength="2.9" lengthAdjust="spacingAndGlyphs">0</text>
<text x="190.9" y="325.36" font-size="7.0" text-anchor="end" font-weight="normal" fill="#222" stroke="#222" stroke-width="0.196" textLength="2.9" lengthAdjust="spacingAndGlyphs">2</text>
<text x="190.9" y="301.22" font-size="7.0" text-anchor="end" font-weight="normal" fill="#222" stroke="#222" stroke-width="0.196" textLength="2.9" lengthAdjust="spacingAndGlyphs">4</text>
<text x="190.9" y="277.08" font-size="7.0" text-anchor="end" font-weight="normal" fill="#222" stroke="#222" stroke-width="0.196" textLength="2.9" lengthAdjust="spacingAndGlyphs">6</text>
<text x="190.9" y="252.94" font-size="7.0" text-anchor="end" font-weight="normal" fill="#222" stroke="#222" stroke-width="0.196" textLength="2.9" lengthAdjust="spacingAndGlyphs">8</text>
<text x="190.9" y="228.8" font-size="7.0" text-anchor="end" font-weight="normal" fill="#222" stroke="#222" stroke-width="0.196" textLength="5.7" lengthAdjust="spacingAndGlyphs">10</text>
<text x="190.9" y="204.66" font-size="7.0" text-anchor="end" font-weight="normal" fill="#222" stroke="#222" stroke-width="0.196" textLength="5.7" lengthAdjust="spacingAndGlyphs">12</text>
<rect x="215.40" y="293.65" width="25.90" height="53.35" fill="#700101"/>
<rect x="279.80" y="245.61" width="26.00" height="101.39" fill="#000"/>
<line x1="228.40" y1="286.30" x2="228.40" y2="300.80" stroke="#111" stroke-width="0.9"/>
<line x1="227.10" y1="286.30" x2="229.70" y2="286.30" stroke="#111" stroke-width="0.9"/>
<line x1="292.80" y1="227.50" x2="292.80" y2="245.61" stroke="#111" stroke-width="0.9"/>
<line x1="291.50" y1="227.50" x2="294.10" y2="227.50" stroke="#111" stroke-width="0.9"/>
<text x="292.3" y="219.5" font-size="7" text-anchor="middle" font-weight="normal" fill="#111" stroke="#111" stroke-width="0.196">*</text>
<text x="229" y="360.3" font-size="9.1" text-anchor="middle" font-weight="normal" fill="#111" stroke="#111" stroke-width="0.255">Abcc4 WT</text>
<text x="293" y="360.3" font-size="9.1" text-anchor="middle" font-weight="normal" fill="#111" stroke="#111" stroke-width="0.255">Abcc4 KO</text>
<text x="179.3" y="270.1" font-size="9.25" text-anchor="middle" font-weight="normal" fill="#111" stroke="#111" stroke-width="0.259" transform="rotate(-90 179.3 270.1)">Occlusion Time (mins)</text>
<text x="353.6" y="192" font-size="10.5" text-anchor="start" font-weight="bold" fill="#000" stroke="#000" stroke-width="0.294">F</text>
<line x1="386.40" y1="187.60" x2="386.40" y2="346.05" stroke="#000" stroke-width="1.9"/>
<line x1="385.45" y1="345.10" x2="487.80" y2="345.10" stroke="#000" stroke-width="1.9"/>
<line x1="383.70" y1="345.10" x2="386.40" y2="345.10" stroke="#000" stroke-width="0.9"/>
<line x1="383.70" y1="327.66" x2="386.40" y2="327.66" stroke="#000" stroke-width="0.9"/>
<line x1="383.70" y1="310.21" x2="386.40" y2="310.21" stroke="#000" stroke-width="0.9"/>
<line x1="383.70" y1="292.77" x2="386.40" y2="292.77" stroke="#000" stroke-width="0.9"/>
<line x1="383.70" y1="275.32" x2="386.40" y2="275.32" stroke="#000" stroke-width="0.9"/>
<line x1="383.70" y1="257.88" x2="386.40" y2="257.88" stroke="#000" stroke-width="0.9"/>
<line x1="383.70" y1="240.43" x2="386.40" y2="240.43" stroke="#000" stroke-width="0.9"/>
<line x1="383.70" y1="222.99" x2="386.40" y2="222.99" stroke="#000" stroke-width="0.9"/>
<line x1="383.70" y1="205.54" x2="386.40" y2="205.54" stroke="#000" stroke-width="0.9"/>
<line x1="383.70" y1="188.10" x2="386.40" y2="188.10" stroke="#000" stroke-width="0.9"/>
<line x1="419.80" y1="345.10" x2="419.80" y2="347.80" stroke="#000" stroke-width="0.9"/>
<line x1="453.70" y1="345.10" x2="453.70" y2="347.80" stroke="#000" stroke-width="0.9"/>
<line x1="487.30" y1="345.10" x2="487.30" y2="347.80" stroke="#000" stroke-width="0.9"/>
<text x="381.5" y="347.6" font-size="7" text-anchor="end" font-weight="normal" fill="#222" stroke="#222" stroke-width="0.196">0</text>
<text x="381.5" y="330.15500000000003" font-size="7" text-anchor="end" font-weight="normal" fill="#222" stroke="#222" stroke-width="0.196">10</text>
<text x="381.5" y="312.71000000000004" font-size="7" text-anchor="end" font-weight="normal" fill="#222" stroke="#222" stroke-width="0.196">20</text>
<text x="381.5" y="295.26500000000004" font-size="7" text-anchor="end" font-weight="normal" fill="#222" stroke="#222" stroke-width="0.196">30</text>
<text x="381.5" y="277.82000000000005" font-size="7" text-anchor="end" font-weight="normal" fill="#222" stroke="#222" stroke-width="0.196">40</text>
<text x="381.5" y="260.375" font-size="7" text-anchor="end" font-weight="normal" fill="#222" stroke="#222" stroke-width="0.196">50</text>
<text x="381.5" y="242.93" font-size="7" text-anchor="end" font-weight="normal" fill="#222" stroke="#222" stroke-width="0.196">60</text>
<text x="381.5" y="225.485" font-size="7" text-anchor="end" font-weight="normal" fill="#222" stroke="#222" stroke-width="0.196">70</text>
<text x="381.5" y="208.04000000000002" font-size="7" text-anchor="end" font-weight="normal" fill="#222" stroke="#222" stroke-width="0.196">80</text>
<text x="381.5" y="190.59500000000003" font-size="7" text-anchor="end" font-weight="normal" fill="#222" stroke="#222" stroke-width="0.196">90</text>
<rect x="394.20" y="254.39" width="9.60" height="90.71" fill="#700101"/>
<rect x="403.80" y="254.39" width="9.20" height="90.71" fill="#000"/>
<line x1="399.00" y1="249.39" x2="399.00" y2="254.39" stroke="#111" stroke-width="0.8"/>
<line x1="397.50" y1="249.39" x2="400.50" y2="249.39" stroke="#111" stroke-width="0.8"/>
<line x1="408.40" y1="249.39" x2="408.40" y2="254.39" stroke="#111" stroke-width="0.8"/>
<line x1="406.90" y1="249.39" x2="409.90" y2="249.39" stroke="#111" stroke-width="0.8"/>
<rect x="427.30" y="236.94" width="9.60" height="108.16" fill="#700101"/>
<rect x="436.90" y="236.94" width="9.10" height="108.16" fill="#000"/>
<line x1="432.10" y1="231.94" x2="432.10" y2="236.94" stroke="#111" stroke-width="0.8"/>
<line x1="430.60" y1="231.94" x2="433.60" y2="231.94" stroke="#111" stroke-width="0.8"/>
<line x1="441.45" y1="231.94" x2="441.45" y2="236.94" stroke="#111" stroke-width="0.8"/>
<line x1="439.95" y1="231.94" x2="442.95" y2="231.94" stroke="#111" stroke-width="0.8"/>
<rect x="460.80" y="209.38" width="9.60" height="135.72" fill="#700101"/>
<rect x="470.40" y="208.51" width="9.20" height="136.59" fill="#000"/>
<line x1="465.60" y1="202.38" x2="465.60" y2="209.38" stroke="#111" stroke-width="0.8"/>
<line x1="464.10" y1="202.38" x2="467.10" y2="202.38" stroke="#111" stroke-width="0.8"/>
<line x1="475.00" y1="201.51" x2="475.00" y2="208.51" stroke="#111" stroke-width="0.8"/>
<line x1="473.50" y1="201.51" x2="476.50" y2="201.51" stroke="#111" stroke-width="0.8"/>
<rect x="394.80" y="199.80" width="3.20" height="3.20" fill="#700101"/>
<rect x="394.80" y="208.80" width="3.20" height="3.20" fill="#000"/>
<text x="400.6" y="204.316" font-size="8.1" text-anchor="start" font-weight="normal" fill="#111" stroke="#111" stroke-width="0.227">Abcc4 WT</text>
<text x="400.6" y="213.316" font-size="8.1" text-anchor="start" font-weight="normal" fill="#111" stroke="#111" stroke-width="0.227">Abcc4 KO</text>
<text x="404.4" y="355.0" font-size="9.8" text-anchor="middle" font-weight="normal" fill="#111" stroke="#111" stroke-width="0.274">0.05</text>
<text x="434.4" y="355.0" font-size="9.8" text-anchor="middle" font-weight="normal" fill="#111" stroke="#111" stroke-width="0.274">0.1</text>
<text x="473.8" y="355.0" font-size="9.8" text-anchor="middle" font-weight="normal" fill="#111" stroke="#111" stroke-width="0.274">0.25</text>
<text x="438.7" y="368.7" font-size="9.9" text-anchor="middle" font-weight="normal" fill="#111" stroke="#111" stroke-width="0.277">Thrombin (U/mL)</text>
<text x="370.9" y="266.3" font-size="9.78" text-anchor="middle" font-weight="normal" fill="#111" stroke="#111" stroke-width="0.274" transform="rotate(-90 370.9 266.3)">Maximum Aggregation (%)</text>
<text x="96.4" y="387" font-size="10.5" text-anchor="start" font-weight="bold" fill="#000" stroke="#000" stroke-width="0.294">G</text>
<line x1="130.70" y1="382.30" x2="130.70" y2="513.90" stroke="#000" stroke-width="1.8"/>
<line x1="129.80" y1="513.00" x2="218.20" y2="513.00" stroke="#000" stroke-width="1.8"/>
<line x1="128.10" y1="513.00" x2="130.70" y2="513.00" stroke="#000" stroke-width="0.9"/>
<line x1="128.10" y1="494.40" x2="130.70" y2="494.40" stroke="#000" stroke-width="0.9"/>
<line x1="128.10" y1="475.80" x2="130.70" y2="475.80" stroke="#000" stroke-width="0.9"/>
<line x1="128.10" y1="457.20" x2="130.70" y2="457.20" stroke="#000" stroke-width="0.9"/>
<line x1="128.10" y1="438.60" x2="130.70" y2="438.60" stroke="#000" stroke-width="0.9"/>
<line x1="128.10" y1="420.00" x2="130.70" y2="420.00" stroke="#000" stroke-width="0.9"/>
<line x1="128.10" y1="401.40" x2="130.70" y2="401.40" stroke="#000" stroke-width="0.9"/>
<line x1="128.10" y1="382.80" x2="130.70" y2="382.80" stroke="#000" stroke-width="0.9"/>
<line x1="160.20" y1="513.00" x2="160.20" y2="515.60" stroke="#000" stroke-width="0.9"/>
<line x1="188.90" y1="513.00" x2="188.90" y2="515.60" stroke="#000" stroke-width="0.9"/>
<line x1="217.70" y1="513.00" x2="217.70" y2="515.60" stroke="#000" stroke-width="0.9"/>
<text x="125.2" y="515.0" font-size="5.6" text-anchor="end" font-weight="normal" fill="#222" stroke="#222" stroke-width="0.157">0</text>
<text x="125.2" y="496.4" font-size="5.6" text-anchor="end" font-weight="normal" fill="#222" stroke="#222" stroke-width="0.157">5</text>
<text x="125.2" y="477.8" font-size="5.6" text-anchor="end" font-weight="normal" fill="#222" stroke="#222" stroke-width="0.157">10</text>
<text x="125.2" y="459.2" font-size="5.6" text-anchor="end" font-weight="normal" fill="#222" stroke="#222" stroke-width="0.157">15</text>
<text x="125.2" y="440.6" font-size="5.6" text-anchor="end" font-weight="normal" fill="#222" stroke="#222" stroke-width="0.157">20</text>
<text x="125.2" y="422.0" font-size="5.6" text-anchor="end" font-weight="normal" fill="#222" stroke="#222" stroke-width="0.157">25</text>
<text x="125.2" y="403.4" font-size="5.6" text-anchor="end" font-weight="normal" fill="#222" stroke="#222" stroke-width="0.157">30</text>
<text x="125.2" y="384.79999999999995" font-size="5.6" text-anchor="end" font-weight="normal" fill="#222" stroke="#222" stroke-width="0.157">35</text>
<rect x="137.10" y="438.60" width="8.70" height="74.40" fill="#700101"/>
<rect x="145.80" y="438.60" width="8.00" height="74.40" fill="#000"/>
<line x1="141.45" y1="434.70" x2="141.45" y2="438.60" stroke="#111" stroke-width="0.7"/>
<line x1="140.15" y1="434.70" x2="142.75" y2="434.70" stroke="#111" stroke-width="0.7"/>
<line x1="149.80" y1="434.70" x2="149.80" y2="438.60" stroke="#111" stroke-width="0.7"/>
<line x1="148.50" y1="434.70" x2="151.10" y2="434.70" stroke="#111" stroke-width="0.7"/>
<rect x="166.30" y="431.16" width="8.30" height="81.84" fill="#700101"/>
<rect x="174.60" y="431.16" width="8.70" height="81.84" fill="#000"/>
<line x1="170.45" y1="426.56" x2="170.45" y2="431.16" stroke="#111" stroke-width="0.7"/>
<line x1="169.15" y1="426.56" x2="171.75" y2="426.56" stroke="#111" stroke-width="0.7"/>
<line x1="178.95" y1="426.56" x2="178.95" y2="431.16" stroke="#111" stroke-width="0.7"/>
<line x1="177.65" y1="426.56" x2="180.25" y2="426.56" stroke="#111" stroke-width="0.7"/>
<rect x="195.40" y="401.40" width="8.30" height="111.60" fill="#700101"/>
<rect x="203.70" y="401.40" width="8.20" height="111.60" fill="#000"/>
<line x1="199.55" y1="395.60" x2="199.55" y2="401.40" stroke="#111" stroke-width="0.7"/>
<line x1="198.25" y1="395.60" x2="200.85" y2="395.60" stroke="#111" stroke-width="0.7"/>
<line x1="207.80" y1="395.60" x2="207.80" y2="401.40" stroke="#111" stroke-width="0.7"/>
<line x1="206.50" y1="395.60" x2="209.10" y2="395.60" stroke="#111" stroke-width="0.7"/>
<rect x="138.00" y="388.00" width="3.20" height="3.20" fill="#700101"/>
<rect x="138.00" y="395.20" width="3.20" height="3.20" fill="#000"/>
<text x="143.5" y="392.012" font-size="6.7" text-anchor="start" font-weight="normal" fill="#111" stroke="#111" stroke-width="0.188">Abcc4 WT</text>
<text x="143.5" y="399.212" font-size="6.7" text-anchor="start" font-weight="normal" fill="#111" stroke="#111" stroke-width="0.188">Abcc4 KO</text>
<text x="146.2" y="522.3" font-size="9.3" text-anchor="middle" font-weight="normal" fill="#111" stroke="#111" stroke-width="0.26">2.5</text>
<text x="174.6" y="522.3" font-size="9.3" text-anchor="middle" font-weight="normal" fill="#111" stroke="#111" stroke-width="0.26">5.0</text>
<text x="201.3" y="522.3" font-size="9.3" text-anchor="middle" font-weight="normal" fill="#111" stroke="#111" stroke-width="0.26">10</text>
<text x="183" y="535.3" font-size="8.6" text-anchor="middle" font-weight="normal" fill="#111" stroke="#111" stroke-width="0.241" textLength="35.8" lengthAdjust="spacingAndGlyphs">ADP (µM)</text>
<text x="114.2" y="447.8" font-size="9.35" text-anchor="middle" font-weight="normal" fill="#111" stroke="#111" stroke-width="0.262" transform="rotate(-90 114.2 447.8)">Maximum Aggregation (%)</text>
<text x="248.3" y="386.8" font-size="10.5" text-anchor="start" font-weight="bold" fill="#000" stroke="#000" stroke-width="0.294">H</text>
<line x1="296.00" y1="392.30" x2="296.00" y2="504.40" stroke="#787878" stroke-width="0.6"/>
<line x1="318.20" y1="392.30" x2="318.20" y2="504.40" stroke="#787878" stroke-width="0.6"/>
<line x1="340.50" y1="392.30" x2="340.50" y2="504.40" stroke="#787878" stroke-width="0.6"/>
<line x1="362.70" y1="392.30" x2="362.70" y2="504.40" stroke="#787878" stroke-width="0.6"/>
<line x1="384.80" y1="392.30" x2="384.80" y2="504.40" stroke="#787878" stroke-width="0.6"/>
<line x1="273.50" y1="409.40" x2="406.00" y2="409.40" stroke="#787878" stroke-width="0.6"/>
<line x1="272.00" y1="409.40" x2="273.50" y2="409.40" stroke="#333" stroke-width="0.6"/>
<line x1="273.50" y1="425.50" x2="406.00" y2="425.50" stroke="#787878" stroke-width="0.6"/>
<line x1="272.00" y1="425.50" x2="273.50" y2="425.50" stroke="#333" stroke-width="0.6"/>
<line x1="273.50" y1="441.70" x2="406.00" y2="441.70" stroke="#787878" stroke-width="0.6"/>
<line x1="272.00" y1="441.70" x2="273.50" y2="441.70" stroke="#333" stroke-width="0.6"/>
<line x1="273.50" y1="458.00" x2="406.00" y2="458.00" stroke="#787878" stroke-width="0.6"/>
<line x1="272.00" y1="458.00" x2="273.50" y2="458.00" stroke="#333" stroke-width="0.6"/>
<line x1="273.50" y1="474.10" x2="406.00" y2="474.10" stroke="#787878" stroke-width="0.6"/>
<line x1="272.00" y1="474.10" x2="273.50" y2="474.10" stroke="#333" stroke-width="0.6"/>
<line x1="273.50" y1="490.30" x2="406.00" y2="490.30" stroke="#787878" stroke-width="0.6"/>
<line x1="272.00" y1="490.30" x2="273.50" y2="490.30" stroke="#333" stroke-width="0.6"/>
<rect x="273.5" y="392.3" width="132.5" height="112.09999999999997" fill="none" stroke="#555" stroke-width="1"/>
<text x="271.2" y="411.2" font-size="5.0" text-anchor="end" font-weight="bold" fill="#222" stroke="#222" stroke-width="0.14">0</text>
<text x="271.2" y="427.3" font-size="5.0" text-anchor="end" font-weight="bold" fill="#222" stroke="#222" stroke-width="0.14">10</text>
<text x="271.2" y="443.5" font-size="5.0" text-anchor="end" font-weight="bold" fill="#222" stroke="#222" stroke-width="0.14">20</text>
<text x="271.2" y="459.8" font-size="5.0" text-anchor="end" font-weight="bold" fill="#222" stroke="#222" stroke-width="0.14">30</text>
<text x="271.2" y="475.90000000000003" font-size="5.0" text-anchor="end" font-weight="bold" fill="#222" stroke="#222" stroke-width="0.14">40</text>
<text x="271.2" y="492.1" font-size="5.0" text-anchor="end" font-weight="bold" fill="#222" stroke="#222" stroke-width="0.14">50</text>
<text x="296.0" y="512.5" font-size="5.3" text-anchor="middle" font-weight="normal" fill="#333" stroke="#333" stroke-width="0.148">1:00</text>
<text x="318.2" y="512.5" font-size="5.3" text-anchor="middle" font-weight="normal" fill="#333" stroke="#333" stroke-width="0.148">2:00</text>
<text x="340.5" y="512.5" font-size="5.3" text-anchor="middle" font-weight="normal" fill="#333" stroke="#333" stroke-width="0.148">3:00</text>
<text x="362.7" y="512.5" font-size="5.3" text-anchor="middle" font-weight="normal" fill="#333" stroke="#333" stroke-width="0.148">4:00</text>
<text x="384.8" y="512.5" font-size="5.3" text-anchor="middle" font-weight="normal" fill="#333" stroke="#333" stroke-width="0.148">5:00</text>
<path d="M296,409 L296.4,412 L298.9,412 L299.1,424.7 L310,424 C311.27,424.47 311.23,423.97 313.80,425.40 C316.37,426.83 315.13,426.57 317.70,428.30 C320.27,430.03 319.27,429.63 321.50,430.60 C323.73,431.57 321.83,431.53 324.40,431.20 C326.97,430.87 325.03,431.10 329.20,429.60 C333.37,428.10 332.40,428.30 336.90,426.70 C341.40,425.10 339.67,425.63 342.70,424.80 C345.73,423.97 344.37,424.07 346.00,424.20 C347.63,424.33 346.67,423.60 347.60,425.20 C348.53,426.80 348.07,425.40 348.80,429.00 C349.53,432.60 349.20,431.33 349.80,436.00 C350.40,440.67 350.00,438.00 350.60,443.00 C351.20,448.00 350.80,445.67 351.60,451.00 C352.40,456.33 352.00,454.33 353.00,459.00 C354.00,463.67 353.47,461.47 354.60,465.00 C355.73,468.53 355.07,467.07 356.40,469.60 C357.73,472.13 356.93,471.13 358.60,472.60 C360.27,474.07 359.63,473.87 361.40,474.00 C363.17,474.13 362.07,474.13 363.90,473.00 C365.73,471.87 364.73,472.50 366.90,470.60 C369.07,468.70 367.20,470.17 370.40,467.30 C373.60,464.43 371.63,465.70 376.50,462.00 C381.37,458.30 378.63,460.00 385.00,456.20 C391.37,452.40 388.60,453.70 395.60,450.60 C402.60,447.50 402.53,448.13 406.00,446.90" fill="none" stroke="#cc2c3a" stroke-width="1.35"/>
<path d="M296,409 L296.3,420.2 L308.8,420.3 C309.33,421.03 309.37,419.83 310.40,422.50 C311.43,425.17 310.43,423.17 311.90,428.30 C313.37,433.43 312.87,432.47 314.80,437.90 C316.73,443.33 316.23,441.83 317.70,444.60 C319.17,447.37 318.03,446.07 319.20,446.20 C320.37,446.33 319.13,447.13 321.20,445.00 C323.27,442.87 322.07,443.80 325.40,439.80 C328.73,435.80 327.37,437.30 331.20,433.00 C335.03,428.70 333.40,430.17 336.90,426.90 C340.40,423.63 339.07,424.93 341.70,423.20 C344.33,421.47 343.17,421.90 344.80,421.70 C346.43,421.50 345.60,421.17 346.60,422.60 C347.60,424.03 347.13,422.87 347.80,426.00 C348.47,429.13 348.03,426.77 348.60,432.00 C349.17,437.23 348.87,435.87 349.50,441.70 C350.13,447.53 349.77,444.47 350.50,449.50 C351.23,454.53 350.83,452.47 351.70,456.80 C352.57,461.13 352.13,459.10 353.10,462.50 C354.07,465.90 353.53,464.50 354.60,467.00 C355.67,469.50 355.10,468.27 356.30,470.00 C357.50,471.73 356.63,471.07 358.20,472.20 C359.77,473.33 359.23,473.33 361.00,473.40 C362.77,473.47 361.67,473.57 363.50,472.40 C365.33,471.23 364.33,471.83 366.50,469.90 C368.67,467.97 366.77,469.50 370.00,466.60 C373.23,463.70 371.27,464.93 376.20,461.20 C381.13,457.47 378.33,459.40 384.80,455.40 C391.27,451.40 388.53,452.87 395.60,449.20 C402.67,445.53 402.53,446.00 406.00,444.40" fill="none" stroke="#2a2878" stroke-width="1.4"/>
<text x="297.9" y="404.6" font-size="6.6" text-anchor="start" font-weight="normal" fill="#111" stroke="#111" stroke-width="0.185" textLength="25.6" lengthAdjust="spacingAndGlyphs">Collagen</text>
<text x="351.2" y="413.4" font-size="6.6" text-anchor="start" font-weight="normal" fill="#111" stroke="#111" stroke-width="0.185" textLength="13" lengthAdjust="spacingAndGlyphs">ADP</text>
<polygon points="301.3,415.6 302.7,407.6 305.3,410.7 309.2,408.6 306,411.6" fill="#000"/>
<polygon points="343.9,421.1 349.3,413.8 350.5,416.5 354.3,417 349.6,418.9" fill="#000"/>
<text x="285.2" y="487.9" font-size="6.4" text-anchor="start" font-weight="normal" fill="#bb2236" stroke="#bb2236" stroke-width="0.179">Abcc4 KO</text>
<text x="329.8" y="487.9" font-size="6.4" text-anchor="start" font-weight="normal" fill="#2f2ac0" stroke="#2f2ac0" stroke-width="0.179">Abcc4 WT</text>
<text x="340.2" y="523.3" font-size="8.7" text-anchor="middle" font-weight="normal" fill="#111" stroke="#111" stroke-width="0.244">Time (min)</text>
<text x="261.3" y="438.7" font-size="9.5" text-anchor="middle" font-weight="normal" fill="#111" stroke="#111" stroke-width="0.266" transform="rotate(-90 261.3 438.7)">% Transmission</text>
</svg>
</body></html>
